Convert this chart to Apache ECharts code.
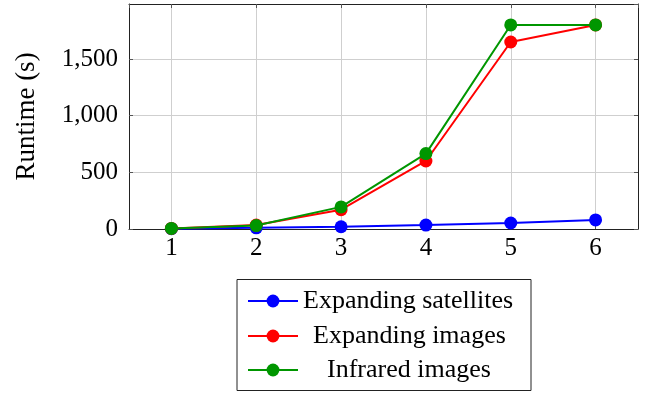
<!DOCTYPE html>
<html>
<head>
<meta charset="utf-8">
<script src="https://cdn.jsdelivr.net/npm/echarts@6/dist/echarts.min.js"></script>
<style>html,body{margin:0;padding:0;background:#fff}#c{width:649px;height:395px}</style>
</head>
<body>
<div id="c"></div>
<script>
const xValues = [1, 2, 3, 4, 5, 6];
const expandingSatellites = [3, 10, 20, 35, 53, 80];
const expandingImages = [5, 35, 170, 600, 1650, 1800];
const infraredImages = [5, 30, 195, 665, 1800, 1800];
const seriesNames = ['Expanding satellites', 'Expanding images', 'Infrared images'];
const yAxisTitle = 'Runtime (s)';

const FONT = 'Liberation Serif';
const colors = ['#0000ff', '#ff0000', '#009600'];
const seriesData = [expandingSatellites, expandingImages, infraredImages];

const chart = echarts.init(document.getElementById('c'), null, {renderer: 'canvas'});

function pairs(arr) { return xValues.map((x, i) => [x, arr[i]]); }

const gridLine = {show: true, lineStyle: {color: '#cfcfcf', width: 1}};
const xBase = {
  type: 'value', min: 0.5, max: 6.5, splitNumber: 6,
  axisLine: {show: true, onZero: false, lineStyle: {color: '#222', width: 1}},
  axisTick: {show: true, inside: true, length: 4, lineStyle: {color: '#555'}}
};
const yBase = {
  type: 'value', min: 0, max: 1985, interval: 500,
  axisLine: {show: true, onZero: false, lineStyle: {color: '#222', width: 1}},
  axisTick: {show: true, inside: true, length: 4, lineStyle: {color: '#555'}}
};

const legendTops = [288, 323, 357];
const legendPads = [0, 10, 24];

chart.setOption({
  animation: false,
  backgroundColor: '#fff',
  textStyle: {fontFamily: FONT},
  grid: {left: 129, right: 11, top: 4, bottom: 166, containLabel: false, outerBoundsMode: 'none'},
  xAxis: [
    Object.assign({}, xBase, {
      position: 'bottom',
      splitLine: gridLine,
      axisLabel: {
        color: '#000', fontFamily: FONT, fontSize: 25, margin: 7,
        showMinLabel: false, showMaxLabel: false,
        formatter: v => (Number.isInteger(v) ? String(v) : '')
      }
    }),
    Object.assign({}, xBase, {position: 'top', splitLine: {show: false}, axisLabel: {show: false}})
  ],
  yAxis: [
    Object.assign({}, yBase, {
      position: 'left',
      splitLine: gridLine,
      name: yAxisTitle, nameLocation: 'middle', nameGap: 89, nameRotate: 90,
      nameTextStyle: {color: '#000', fontFamily: FONT, fontSize: 27},
      axisLabel: {
        color: '#000', fontFamily: FONT, fontSize: 25, margin: 11,
        showMaxLabel: false,
        formatter: v => v.toLocaleString('en-US')
      }
    }),
    Object.assign({}, yBase, {position: 'right', splitLine: {show: false}, axisLabel: {show: false}})
  ],
  legend: seriesNames.map((name, i) => ({
    data: [{name: name, textStyle: {padding: [0, 0, 0, legendPads[i]]}}],
    left: 247, top: legendTops[i], orient: 'vertical',
    itemWidth: 50, itemHeight: 16, padding: 0,
    textStyle: {color: '#000', fontFamily: FONT, fontSize: 26}
  })),
  graphic: [{
    type: 'rect', shape: {x: 237, y: 279.5, width: 294, height: 111},
    style: {fill: 'none', stroke: '#222', lineWidth: 1}, silent: true
  }],
  series: seriesNames.map((name, i) => ({
    name: name, type: 'line', data: pairs(seriesData[i]),
    xAxisIndex: 0, yAxisIndex: 0,
    symbol: 'circle', symbolSize: 13,
    itemStyle: {color: colors[i]},
    lineStyle: {color: colors[i], width: 2},
    z: 2 + i
  }))
});
</script>
</body>
</html>
